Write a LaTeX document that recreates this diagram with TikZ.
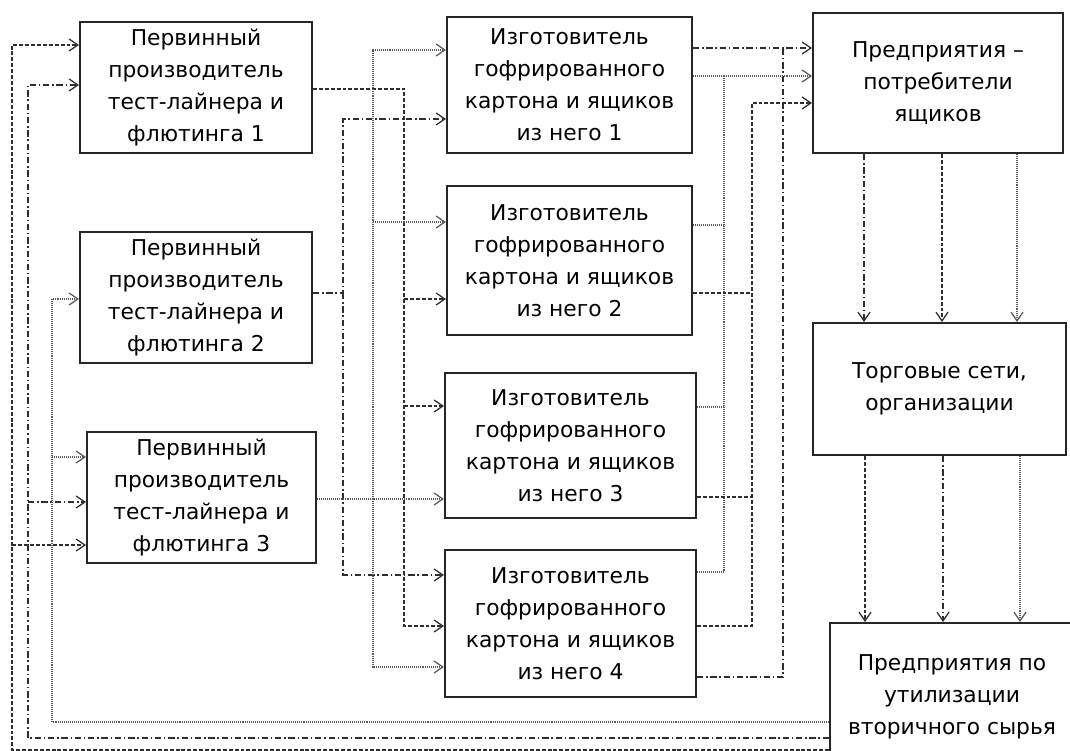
\documentclass[tikz,border=0pt]{standalone}
\usepackage{fontspec}
\setmainfont{DejaVu Sans}
\usepackage{tikz}
\usetikzlibrary{arrows.meta,positioning,calc}
\definecolor{lineaGris}{HTML}{2E2E2E}
\definecolor{puntoGris}{HTML}{5A5A5A}
\tikzset{
  bloque/.style={draw=black!85, line width=1.4pt, align=center, inner sep=0pt, font=\fontsize{15.5}{22.8}\selectfont},
  flecha/.style={-{Straight Barb[length=2.2mm,width=3mm,line width=0.9pt]}},
  lguion/.style={draw=lineaGris, line width=1.1pt, dash pattern=on 2.8pt off 1.4pt},
  lmixta/.style={draw=lineaGris, line width=1.1pt, dash pattern=on 4.5pt off 2pt on 1pt off 2pt},
  lpunto/.style={draw=puntoGris, line width=1.1pt, dash pattern=on 0.7pt off 0.7pt},
}
\begin{document}
\begin{tikzpicture}[x=0.25mm, y=-0.25mm]
\useasboundingbox (0,0) rectangle (1070,751);
% производители
\node[bloque, minimum width=58mm, minimum height=32.75mm] (p1) at (196,87.5) {Первинный\\производитель\\тест-лайнера и\\флютинга 1};
\node[bloque, minimum width=58mm, minimum height=32.75mm] (p2) at (196,297.5) {Первинный\\производитель\\тест-лайнера и\\флютинга 2};
\node[bloque, minimum width=57.25mm, minimum height=32.75mm] (p3) at (201.5,497.5) {Первинный\\производитель\\тест-лайнера и\\флютинга 3};
% изготовители
\node[bloque, minimum width=61.25mm, minimum height=34mm] (m1) at (569.5,85) {Изготовитель\\гофрированного\\картона и ящиков\\из него 1};
\node[bloque, minimum width=61.25mm, minimum height=37.25mm] (m2) at (569.5,260.5) {Изготовитель\\гофрированного\\картона и ящиков\\из него 2};
\node[bloque, minimum width=62.75mm, minimum height=36.25mm] (m3) at (570.5,445.5) {Изготовитель\\гофрированного\\картона и ящиков\\из него 3};
\node[bloque, minimum width=62.75mm, minimum height=36.75mm] (m4) at (570.5,623.5) {Изготовитель\\гофрированного\\картона и ящиков\\из него 4};
% потребители
\node[bloque, minimum width=62.5mm, minimum height=35mm] (c) at (938,83) {Предприятия –\\потребители\\ящиков};
\node[bloque, minimum width=63.25mm, minimum height=33mm] (t) at (939.5,389) {Торговые сети,\\организации};
\node[bloque, minimum width=61mm, minimum height=37mm] (u) at (952,697) {Предприятия по\\утилизации\\вторичного сырья};

% возврат вторсырья
\draw[lguion, flecha] (u.west |- 0,750) -| (12,45) -- (p1.west |- 0,45);
\draw[lguion, flecha] (12,545) -- (p3.west |- 0,545);
\draw[lmixta, flecha] (u.west |- 0,738) -| (28,85) -- (p1.west |- 0,85);
\draw[lmixta, flecha] (28,502) -- (p3.west |- 0,502);
\draw[lpunto, flecha] (u.west |- 0,722) -| (52,299) -- (p2.west |- 0,299);
\draw[lpunto, flecha] (52,457) -- (p3.west |- 0,457);

% производители -> изготовители
\draw[lguion, flecha] (p1.east |- 0,89) -| (404,626) -- (m4.west |- 0,626);
\draw[lguion, flecha] (404,299) -- (m2.west |- 0,299);
\draw[lguion, flecha] (404,406) -- (m3.west |- 0,406);
\draw[lmixta, flecha] (p2.east |- 0,293) -| (343,119) -- (m1.west |- 0,119);
\draw[lmixta, flecha] (343,293) |- (m4.west |- 0,575);
\draw[lpunto, flecha] (p3.east |- 0,499) -- (m3.west |- 0,499);
\draw[lpunto, flecha] (373,499) |- (m1.west |- 0,50);
\draw[lpunto, flecha] (373,499) |- (m4.west |- 0,667);
\draw[lpunto, flecha] (373,222) -- (m2.west |- 0,222);

% изготовители -> потребители
\draw[lmixta, flecha] (m1.east |- 0,48) -- (c.west |- 0,48);
\draw[lmixta] (m4.east |- 0,677) -| (783,48);
\draw[lpunto, flecha] (m1.east |- 0,76) -- (c.west |- 0,76);
\draw[lpunto] (m4.east |- 0,572) -| (724,76);
\draw[lpunto] (m2.east |- 0,225) -- (724,225);
\draw[lpunto] (m3.east |- 0,407) -- (724,407);
\draw[lguion, flecha] (m4.east |- 0,626) -| (752,103) -- (c.west |- 0,103);
\draw[lguion] (m2.east |- 0,293) -- (752,293);
\draw[lguion] (m3.east |- 0,497) -- (752,497);

% вниз по цепочке
\draw[lmixta, flecha] (c.south -| 864,0) -- (t.north -| 864,0);
\draw[lguion, flecha] (c.south -| 942,0) -- (t.north -| 942,0);
\draw[lpunto, flecha] (c.south -| 1017,0) -- (t.north -| 1017,0);
\draw[lguion, flecha] (t.south -| 865,0) -- (u.north -| 865,0);
\draw[lmixta, flecha] (t.south -| 943,0) -- (u.north -| 943,0);
\draw[lpunto, flecha] (t.south -| 1020,0) -- (u.north -| 1020,0);
\end{tikzpicture}
\end{document}
